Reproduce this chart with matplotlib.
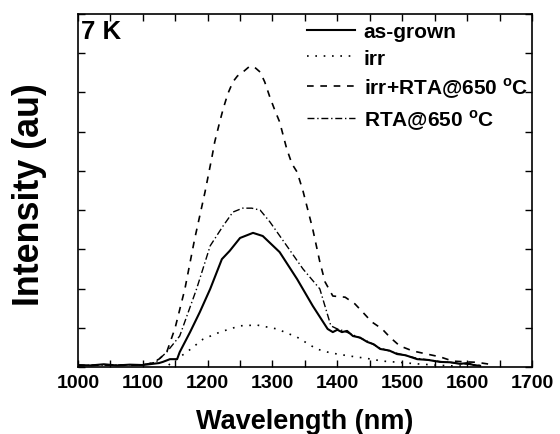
import matplotlib
matplotlib.use("Agg")
import matplotlib.pyplot as plt
from matplotlib.ticker import MultipleLocator

plt.rcParams['font.family'] = ['Liberation Sans', 'DejaVu Sans']
plt.rcParams['font.weight'] = 'bold'
plt.rcParams['mathtext.fontset'] = 'custom'
plt.rcParams['mathtext.rm'] = 'Liberation Sans:bold'
plt.rcParams['mathtext.bf'] = 'Liberation Sans:bold'

# Data (wavelength nm, intensity au)
wl_asgrown = [1000, 1020, 1040, 1060, 1080, 1100, 1115, 1125, 1131, 1142, 1153, 1157, 1173,
              1188, 1204, 1222, 1234, 1250, 1270, 1285, 1311, 1338, 1362, 1385, 1393,
              1400, 1407, 1415, 1424, 1435, 1446, 1456, 1466, 1480, 1492, 1505, 1523,
              1540, 1558, 1575, 1589, 1600, 1610, 1620]
int_asgrown = [0.05, 0.04, 0.07, 0.04, 0.06, 0.05, 0.08, 0.1, 0.13, 0.2, 0.2, 0.38, 0.89,
               1.40, 1.99, 2.75, 2.96, 3.29, 3.42, 3.34, 2.93, 2.24, 1.56, 0.97, 0.89,
               0.95, 0.89, 0.92, 0.79, 0.75, 0.64, 0.58, 0.46, 0.42, 0.33, 0.30, 0.20,
               0.18, 0.13, 0.12, 0.08, 0.1, 0.05, 0.03]

wl_irr = [1140, 1146, 1168, 1193, 1219, 1250, 1276, 1307, 1338, 1368, 1385, 1400,
          1419, 1445, 1470, 1495, 1523, 1550, 1574, 1600]
int_irr = [0.05, 0.13, 0.38, 0.71, 0.89, 1.05, 1.07, 0.97, 0.76, 0.46, 0.38, 0.33,
           0.28, 0.22, 0.15, 0.12, 0.08, 0.05, 0.03, 0.02]

wl_irr_rta = [1000, 1040, 1080, 1110, 1125, 1137, 1150, 1165, 1180, 1196, 1207, 1211,
              1219, 1224, 1231, 1239, 1246, 1253, 1265, 1274, 1281, 1288, 1296, 1304,
              1311, 1322, 1330, 1338, 1347, 1362, 1373, 1381, 1393, 1412, 1427, 1439,
              1453, 1469, 1481, 1496, 1516, 1538, 1558, 1578, 1600, 1615, 1631, 1640]
int_irr_rta = [0.03, 0.05, 0.04, 0.08, 0.2, 0.38, 1.0, 1.99, 3.26, 4.46, 5.38, 5.74,
               6.27, 6.58, 6.96, 7.27, 7.42, 7.50, 7.67, 7.62, 7.52, 7.27, 6.88, 6.53,
               6.25, 5.56, 5.18, 4.97, 4.49, 3.52, 2.68, 2.17, 1.81, 1.78, 1.61, 1.40,
               1.15, 0.97, 0.76, 0.54, 0.41, 0.33, 0.26, 0.15, 0.13, 0.12, 0.08, 0.05]

wl_rta = [1000, 1050, 1100, 1120, 1137, 1157, 1183, 1204, 1224, 1239, 1254, 1268, 1281,
          1296, 1322, 1347, 1373, 1390, 1400, 1410, 1424, 1446, 1466, 1492, 1523,
          1558, 1589, 1620]
int_rta = [0.04, 0.05, 0.06, 0.12, 0.38, 0.79, 1.99, 3.09, 3.60, 3.95, 4.05, 4.05, 4.00,
           3.70, 3.09, 2.50, 1.99, 1.05, 0.97, 0.92, 0.82, 0.66, 0.48, 0.35, 0.22,
           0.14, 0.09, 0.04]

labels = ['as-grown', 'irr', r'irr+RTA@650 $^{\mathrm{o}}$C', r'RTA@650 $^{\mathrm{o}}$C']

fig = plt.figure(figsize=(5.6, 4.35), dpi=100)
ax = fig.add_axes([0.139, 0.154, 0.811, 0.8115])

ax.plot(wl_asgrown, int_asgrown, color='black', lw=1.5, ls='-', label=labels[0])
ax.plot(wl_irr, int_irr, color='black', lw=1.2, ls=(0, (1, 4)), label=labels[1])
ax.plot(wl_irr_rta, int_irr_rta, color='black', lw=1.2, ls=(0, (4, 4)), label=labels[2])
ax.plot(wl_rta, int_rta, color='black', lw=1.0, ls=(0, (5, 2, 1, 2)), label=labels[3])

ax.set_xlim(1000, 1700)
ax.set_ylim(0, 9)
ax.xaxis.set_major_locator(MultipleLocator(100))
ax.xaxis.set_minor_locator(MultipleLocator(50))
ax.yaxis.set_major_locator(MultipleLocator(1))
ax.set_yticklabels([])
ax.tick_params(which='both', direction='in', top=True, right=True, width=1.0)
ax.tick_params(which='major', length=5)
ax.tick_params(which='minor', length=5)
ax.tick_params(axis='x', labelsize=14, pad=5)
for lab in ax.get_xticklabels():
    lab.set_fontweight('bold')
for s in ax.spines.values():
    s.set_linewidth(1.2)

ax.set_xlabel('Wavelength (nm)', fontsize=19.5, fontweight='bold', labelpad=12)
ax.set_ylabel('Intensity (au)', fontsize=25.8, fontweight='bold')
ax.yaxis.set_label_coords(-0.069, 0.49)

ax.text(0.006, 0.985, '7 K', transform=ax.transAxes, fontsize=18.5, fontweight='bold',
        va='top', ha='left')

leg = ax.legend(loc='upper right', frameon=False, fontsize=15.0, handlelength=2.3,
                handletextpad=0.4, labelspacing=0.36, borderaxespad=0.0,
                borderpad=0.1, bbox_to_anchor=(0.996, 0.983))
for t in leg.get_texts():
    t.set_fontweight('bold')

fig.savefig('out.png', dpi=100)
